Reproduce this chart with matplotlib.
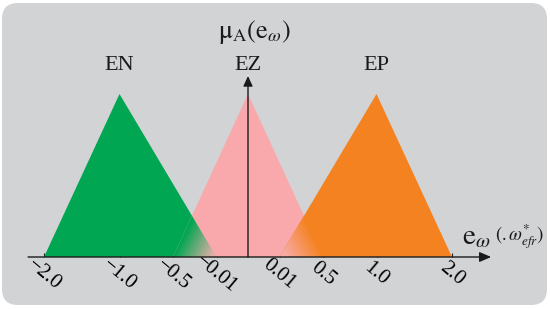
import numpy as np
import matplotlib
matplotlib.use("Agg")
import matplotlib.pyplot as plt
from matplotlib.patches import Polygon, FancyBboxPatch

plt.rcParams['font.family'] = ['Liberation Serif', 'DejaVu Serif']
plt.rcParams['mathtext.fontset'] = 'stix'

# ---- data ----
categories = ['EN', 'EZ', 'EP']
left_feet = [-2.0, -0.5, 0.01]
peaks = [-1.0, 0.0, 1.0]
right_feet = [-0.01, 0.5, 2.0]
tick_values = [-2.0, -1.0, -0.5, -0.01, 0.01, 0.5, 1.0, 2.0]
tick_labels = ['\u22122.0', '\u22121.0', '\u22120.5', '\u22120.01', '0.01', '0.5', '1.0', '2.0']

# ---- styles / layout ----
colors = ['#00A651', '#F9A9AC', '#F58220']
bg_color = '#D2D3D5'
# schematic (piecewise) axis scale: value -> position
knot_values = [-2.0, -1.0, -0.5, -0.01, 0.0, 0.01, 0.5, 1.0, 2.0]
knot_pos = [-204, -128.5, -75, -31.5, 0, 31.5, 75, 128.5, 204]


def fwd(v):
    return np.interp(v, knot_values, knot_pos)


def inv(u):
    return np.interp(u, knot_pos, knot_values)


fig = plt.figure(figsize=(5.5, 3.09), dpi=100, facecolor='white')
bg = FancyBboxPatch((0.02, 0.04), 5.45, 3.02,
                    boxstyle="round,pad=0,rounding_size=0.16",
                    transform=fig.dpi_scale_trans, facecolor=bg_color,
                    edgecolor='none', zorder=-10)
fig.patches.append(bg)

ax = fig.add_axes([44 / 550, 52 / 309, 408 / 550, 163 / 309])
ax.set_zorder(1)
ax.set_facecolor('none')
ax.patch.set_alpha(0)
ax.set_xscale('function', functions=(fwd, inv))

for lf, pk, rf, c in zip(left_feet, peaks, right_feet, colors):
    ax.add_patch(Polygon([(lf, 0), (pk, 1), (rf, 0)], closed=True,
                         facecolor=c, edgecolor='none', clip_on=False, zorder=2))


def cross(fall_peak, fall_foot, rise_foot, rise_peak):
    a0, a1 = fwd(fall_foot), fwd(fall_peak)
    b0, b1 = fwd(rise_foot), fwd(rise_peak)
    y = (b0 - a0) / ((a1 - a0) - (b1 - b0))
    u = a0 + (a1 - a0) * y
    return float(inv(u)), float(y)


def rgb(h):
    return np.array(matplotlib.colors.to_rgb(h))


M, N = 200, 100
xf = np.linspace(0, 1, M)[None, :]
yf = np.linspace(0, 1, N)[:, None]

# left overlap (EN / EZ)
xs, ys = cross(peaks[0], right_feet[0], left_feet[1], peaks[1])
t = np.clip(xf * 1.15 - 0.55 * yf, 0, 1)[..., None]
end_l = np.array([222, 174, 166]) / 255
img = rgb(colors[0]) * (1 - t) + end_l * t
im = ax.imshow(img, extent=[left_feet[1], right_feet[0], 0, ys], origin='lower',
               aspect='auto', interpolation='bilinear', zorder=3)
clip = Polygon([(left_feet[1], 0), (xs, ys), (right_feet[0], 0)], closed=True,
               transform=ax.transData, facecolor='none', edgecolor='none')
im.set_clip_path(clip)

# right overlap (EZ / EP)
xs2, ys2 = cross(peaks[1], right_feet[1], left_feet[2], peaks[2])
s = np.clip((1 - xf) * 1.15 - 0.55 * yf, 0, 1)[..., None]
end_r = np.array([248, 170, 165]) / 255
img2 = rgb(colors[2]) * (1 - s) + end_r * s
im2 = ax.imshow(img2, extent=[left_feet[2], right_feet[1], 0, ys2], origin='lower',
                aspect='auto', interpolation='bilinear', zorder=3)
clip2 = Polygon([(left_feet[2], 0), (xs2, ys2), (right_feet[1], 0)], closed=True,
                transform=ax.transData, facecolor='none', edgecolor='none')
im2.set_clip_path(clip2)

ax.set_xlim(-2.0, 2.0)
ax.set_ylim(0, 1)
for sp in ax.spines.values():
    sp.set_visible(False)
ax.set_yticks([])

# axes with arrows
ax.annotate('', xy=(1.096, 0), xytext=(-0.039, 0),
            xycoords=('axes fraction', 'data'), textcoords=('axes fraction', 'data'),
            arrowprops=dict(arrowstyle='-|>,head_length=0.7,head_width=0.3',
                            color='#1a1a1a', lw=1.0, shrinkA=0, shrinkB=0),
            annotation_clip=False, zorder=5)
ax.annotate('', xy=(0, 1.11), xytext=(0, 0),
            arrowprops=dict(arrowstyle='-|>,head_length=0.6,head_width=0.28',
                            color='#1a1a1a', lw=1.0, shrinkA=0, shrinkB=0),
            annotation_clip=False, zorder=5)

ax.set_xticks(tick_values, labels=tick_labels)
ax.tick_params(axis='x', direction='in', length=3, width=0.8, color='#1a1a1a',
               pad=12.5, labelsize=15)
for lab in ax.get_xticklabels():
    lab.set_rotation(-40)
    lab.set_rotation_mode('anchor')
    lab.set_ha('center')
    lab.set_va('center')

for name, pk in zip(categories, peaks):
    ax.text(pk, 1.175, name, ha='center', va='center', fontsize=16, color='#1a1a1a')

ax.annotate(r'$\mathrm{\mu}_{\mathrm{A}}(\mathrm{e}_{\omega})$', xy=(0, 1.38),
            xytext=(7, 0), textcoords='offset pixels', ha='center', va='center',
            fontsize=19, color='#1a1a1a', annotation_clip=False)

ax.text(1.0245, 0.12, r'$\mathrm{e}_{\omega}$', transform=ax.transAxes,
        ha='left', va='center', fontsize=21, color='#1a1a1a')
ax.text(1.106, 0.125, r'$(.\omega^{*}_{efr})$', transform=ax.transAxes,
        ha='left', va='center', fontsize=13.5, color='#1a1a1a')

fig.savefig('out.png', dpi=100, facecolor='white')
